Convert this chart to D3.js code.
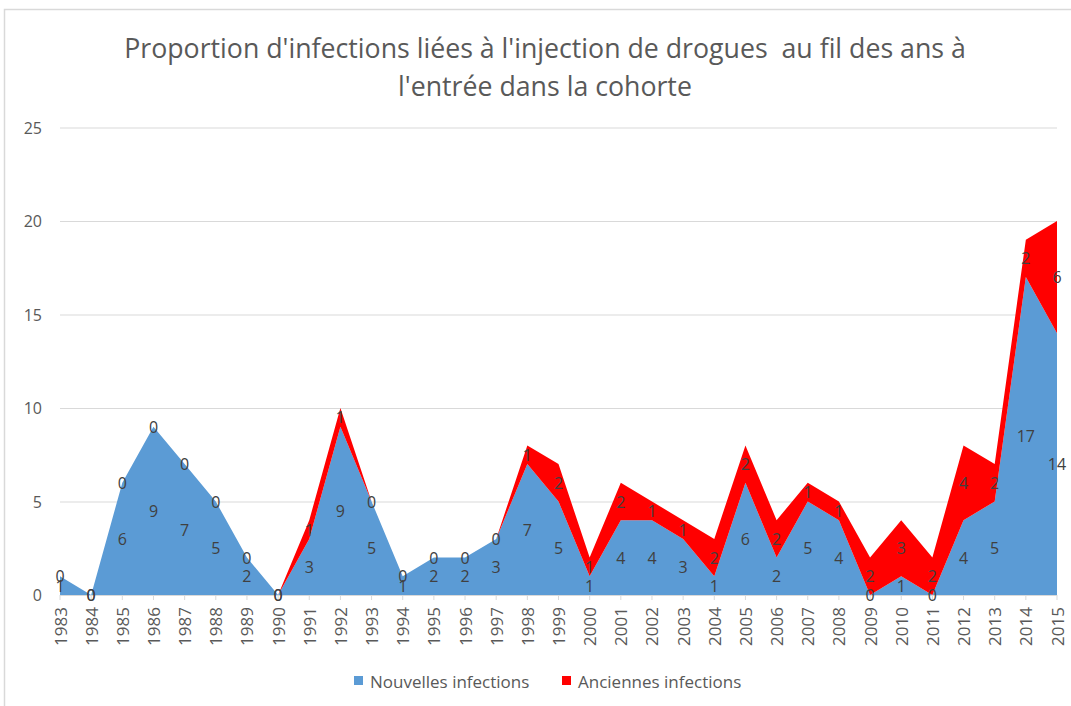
<!DOCTYPE html>
<html><head><meta charset="utf-8">
<script src="https://cdn.jsdelivr.net/npm/d3@7"></script>
<style>body{margin:0;background:#fff;} svg{display:block;} text.title{white-space:pre;}</style>
</head><body>
<svg id="chart" width="1071" height="706"></svg>
<script>
const years = [1983,1984,1985,1986,1987,1988,1989,1990,1991,1992,1993,1994,1995,1996,1997,1998,1999,2000,2001,2002,2003,2004,2005,2006,2007,2008,2009,2010,2011,2012,2013,2014,2015];
const nouvelles = [1,0,6,9,7,5,2,0,3,9,5,1,2,2,3,7,5,1,4,4,3,1,6,2,5,4,0,1,0,4,5,17,14];
const anciennes = [0,0,0,0,0,0,0,0,1,1,0,0,0,0,0,1,2,1,2,1,1,2,2,2,1,1,2,3,2,4,2,2,6];
const seriesNames = ["Nouvelles infections","Anciennes infections"];
const seriesColors = ["#5B9BD5","#FF0000"];
const yTicks = [0,5,10,15,20,25];
const titleLines = ["Proportion d'infections liées à l'injection de drogues  au fil des ans à","l'entrée dans la cohorte"];

(function(){
const svg = d3.select("#chart");
const font = "'Open Sans', 'Noto Sans', sans-serif";
svg.append("rect").attr("x",4.5).attr("y",9.5).attr("width",1100).attr("height",750)
  .attr("fill","#fff").attr("stroke","#D9D9D9").attr("stroke-width",1.5);

const pL = 60, pR = 1057, pT = 127.5, pB = 595;
const x = d3.scalePoint().domain(years).range([pL,pR]);
const y = d3.scaleLinear().domain([0,25]).range([pB,pT]);

// gridlines
svg.append("g").selectAll("line").data(yTicks).join("line")
  .attr("x1",pL).attr("x2",pR).attr("y1",d=>y(d)+0.5).attr("y2",d=>y(d)+0.5)
  .attr("stroke","#D9D9D9").attr("stroke-width",1);

// y labels
svg.append("g").selectAll("text").data(yTicks).join("text")
  .attr("x",42).attr("y",d=>y(d)).attr("text-anchor","end").attr("dominant-baseline","central")
  .attr("font-family",font).attr("font-size",16).attr("fill","#595959").text(d=>d);

// stack
const data = years.map((yr,i)=>({year:yr, n:nouvelles[i], a:anciennes[i]}));
const layers = d3.stack().keys(["n","a"])(data);
const area = d3.area().x(d=>x(d.data.year)).y0(d=>y(d[0])).y1(d=>y(d[1]));
svg.append("g").selectAll("path").data(layers).join("path")
  .attr("d",area).attr("fill",(d,i)=>seriesColors[i]);

// x axis line and ticks
svg.append("line").attr("x1",pL).attr("x2",pR).attr("y1",pB+0.5).attr("y2",pB+0.5)
  .attr("stroke","#D9D9D9");
svg.append("g").selectAll("line").data(years).join("line")
  .attr("x1",d=>x(d)).attr("x2",d=>x(d)).attr("y1",pB).attr("y2",pB+5)
  .attr("stroke","#D9D9D9");
svg.append("g").selectAll("text").data(years).join("text")
  .attr("transform",d=>`translate(${x(d)},${pB+12}) rotate(-90)`)
  .attr("text-anchor","end").attr("dominant-baseline","central")
  .attr("font-family",font).attr("font-size",17).attr("fill","#595959").text(d=>d);

// data labels
layers.forEach((layer)=>{
  svg.append("g").selectAll("text").data(layer).join("text")
    .attr("x",d=>x(d.data.year)).attr("y",d=>y((d[0]+d[1])/2))
    .attr("text-anchor","middle").attr("dominant-baseline","central")
    .attr("font-family",font).attr("font-size",16).attr("fill","#404040")
    .text(d=>d[1]-d[0]);
});

// title
const tg = svg.append("g");
titleLines.forEach((t,i)=>{
  tg.append("text").attr("class","title").attr("x",545).attr("y",[47,85][i]).attr("text-anchor","middle")
    .attr("dominant-baseline","central").attr("font-family",font).attr("font-size",24)
    .attr("fill","#595959").text(t);
});
const w0 = tg.select("text").node().getComputedTextLength();
tg.selectAll("text").attr("font-size",24*842/w0);

// legend
const legItems = [{x:354,tx:370},{x:562,tx:578}];
seriesNames.forEach((nm,i)=>{
  svg.append("rect").attr("x",legItems[i].x).attr("y",676).attr("width",9).attr("height",9).attr("fill",seriesColors[i]);
  svg.append("text").attr("x",legItems[i].tx).attr("y",681).attr("dominant-baseline","central")
    .attr("font-family",font).attr("font-size",17).attr("fill","#595959").text(nm);
});
})();
</script>
</body></html>
